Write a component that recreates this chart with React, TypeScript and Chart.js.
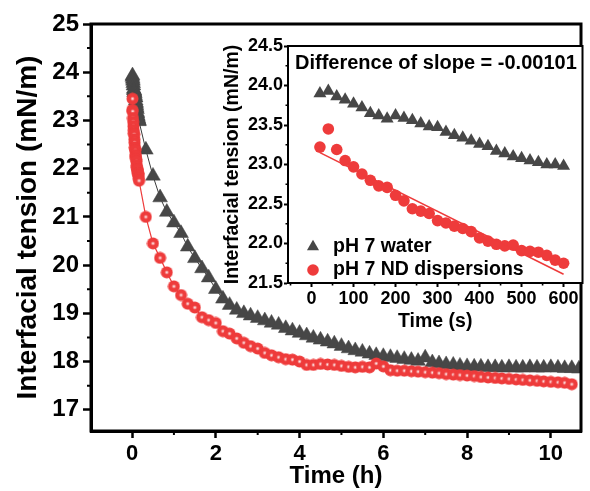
import React, { useEffect, useRef } from 'react';
import { Chart, registerables } from 'chart.js';

Chart.register(...registerables);

const FONT = "'Liberation Sans', Arial, Helvetica, sans-serif";
const GRAY = '#474747';
const RED = '#EE3B3B';

// ---------- Inset data (first 600 s) ----------
const insetTimeS = [20, 40, 60, 80, 100, 120, 140, 160, 180, 200, 220, 240, 260, 280, 300,
  320, 340, 360, 380, 400, 420, 440, 460, 480, 500, 520, 540, 560, 580, 600];
const insetWater = [23.90, 23.93, 23.86, 23.82, 23.77, 23.72, 23.65, 23.62, 23.58, 23.62,
  23.59, 23.56, 23.52, 23.48, 23.47, 23.41, 23.37, 23.34, 23.30, 23.26,
  23.23, 23.17, 23.14, 23.10, 23.08, 23.05, 23.03, 23.00, 23.00, 22.98];
const insetND = [23.22, 23.45, 23.19, 23.05, 22.97, 22.88, 22.80, 22.73, 22.71, 22.61,
  22.54, 22.44, 22.41, 22.38, 22.29, 22.26, 22.22, 22.19, 22.15, 22.07,
  22.03, 21.99, 21.97, 21.98, 21.91, 21.90, 21.89, 21.85, 21.79, 21.75];
const fitTimeS = [20, 600];
const fitND = [23.15, 21.61];
const slopeNote = 'Difference of slope = -0.00101';

// ---------- Main data after the first 10 min ----------
const mainTimeH = [0.33, 0.5, 0.67, 0.83, 1.0, 1.17, 1.33, 1.5, 1.67, 1.83, 2.0, 2.17, 2.33, 2.5,
  2.67, 2.83, 3.0, 3.17, 3.33, 3.5, 3.67, 3.83, 4.0, 4.17, 4.33, 4.5, 4.67, 4.83, 5.0, 5.17,
  5.33, 5.5, 5.67, 5.83, 6.0, 6.17, 6.33, 6.5, 6.67, 6.83, 7.0, 7.17, 7.33, 7.5, 7.67, 7.83,
  8.0, 8.17, 8.33, 8.5, 8.67, 8.83, 9.0, 9.17, 9.33, 9.5, 9.67, 9.83, 10.0, 10.17, 10.33,
  10.5, 10.67];
const mainWaterLater = [22.39, 21.85, 21.40, 21.10, 20.88, 20.66, 20.38, 20.14, 19.93, 19.74,
  19.50, 19.30, 19.17, 19.07, 19.00, 18.95, 18.90, 18.85, 18.80, 18.76, 18.69, 18.64, 18.59,
  18.54, 18.49, 18.45, 18.41, 18.37, 18.32, 18.27, 18.23, 18.20, 18.16, 18.13, 18.11, 18.09,
  18.07, 18.05, 18.03, 18.01, 18.08, 17.98, 17.96, 17.94, 17.93, 17.91, 17.90, 17.89, 17.89,
  17.88, 17.88, 17.87, 17.88, 17.87, 17.87, 17.88, 17.87, 17.87, 17.88, 17.87, 17.86, 17.86,
  17.85];
const mainNDLater = [21.00, 20.45, 20.15, 19.85, 19.56, 19.38, 19.20, 19.12, 18.92, 18.86,
  18.80, 18.63, 18.58, 18.48, 18.39, 18.32, 18.27, 18.18, 18.13, 18.09, 18.05, 18.04, 18.00,
  17.93, 17.93, 17.95, 17.94, 17.93, 17.91, 17.89, 17.88, 17.89, 17.88, 17.96, 17.90, 17.82,
  17.81, 17.81, 17.80, 17.79, 17.78, 17.77, 17.76, 17.74, 17.73, 17.72, 17.71, 17.70, 17.68,
  17.67, 17.66, 17.65, 17.64, 17.63, 17.62, 17.61, 17.60, 17.59, 17.58, 17.57, 17.56, 17.53];

// ---------- Ticks ----------
const mainXTicks = [0, 2, 4, 6, 8, 10];
const mainXMinor = [1, 3, 5, 7, 9];
const mainYTicks = [17, 18, 19, 20, 21, 22, 23, 24, 25];
const mainYMinor = [17.5, 18.5, 19.5, 20.5, 21.5, 22.5, 23.5, 24.5];
const insetXTicks = [0, 100, 200, 300, 400, 500, 600];
const insetXMinor = [-50, 50, 150, 250, 350, 450, 550];
const insetYTicks = [21.5, 22.0, 22.5, 23.0, 23.5, 24.0, 24.5];
const insetYMinor = [21.75, 22.25, 22.75, 23.25, 23.75, 24.25];

const waterLabel = 'pH 7 water';
const ndLabel = 'pH 7 ND dispersions';
const yTitle = 'Interfacial tension (mN/m)';

const framePlugin = {
  id: 'frame',
  beforeDraw(chart: any, _a: any, opts: any) {
    if (!opts.fill) return;
    const { ctx, chartArea: a } = chart;
    ctx.save();
    ctx.fillStyle = opts.fill;
    ctx.fillRect(a.left, a.top, a.right - a.left, a.bottom - a.top);
    ctx.restore();
  },
  afterDraw(chart: any, _a: any, opts: any) {
    const { ctx, chartArea: a } = chart;
    const xs = chart.scales.x;
    const ys = chart.scales.y;
    ctx.save();
    ctx.strokeStyle = '#000';
    ctx.lineWidth = opts.width;
    ctx.strokeRect(a.left, a.top, a.right - a.left, a.bottom - a.top);
    ctx.lineWidth = opts.tickWidth;
    ctx.beginPath();
    for (const v of opts.xMinor) {
      const p = xs.getPixelForValue(v);
      ctx.moveTo(p, a.bottom);
      ctx.lineTo(p, a.bottom + opts.minorLen);
    }
    for (const v of opts.yMinor) {
      const p = ys.getPixelForValue(v);
      ctx.moveTo(a.left, p);
      ctx.lineTo(a.left - opts.minorLen, p);
    }
    ctx.stroke();
    ctx.restore();
  },
};

const insetTextPlugin = {
  id: 'insetText',
  afterDatasetsDraw(chart: any, _a: any, opts: any) {
    const { ctx, chartArea: a } = chart;
    ctx.save();
    ctx.textBaseline = 'middle';
    ctx.textAlign = 'left';
    ctx.fillStyle = '#000';
    ctx.font = `bold ${opts.noteSize}px ${FONT}`;
    ctx.fillText(opts.note, a.left + opts.noteDx, a.top + opts.noteDy);
    ctx.font = `bold ${opts.legendSize}px ${FONT}`;
    opts.items.forEach((it: any, i: number) => {
      const ds = chart.data.datasets[it.ds];
      const y = a.bottom - opts.rowFromBottom[i];
      const mx = a.left + opts.markerDx;
      ctx.fillStyle = ds.pointBackgroundColor;
      ctx.beginPath();
      if (ds.pointStyle === 'triangle') {
        const r = opts.triR;
        ctx.moveTo(mx, y - r);
        ctx.lineTo(mx + r * Math.sin(2 * Math.PI / 3), y + r / 2);
        ctx.lineTo(mx - r * Math.sin(2 * Math.PI / 3), y + r / 2);
        ctx.closePath();
      } else {
        ctx.arc(mx, y, opts.circR, 0, Math.PI * 2);
      }
      ctx.fill();
      ctx.fillStyle = '#000';
      ctx.fillText(ds.label, a.left + opts.textDx, y);
    });
    ctx.restore();
  },
};

function makeSphere(): HTMLCanvasElement {
  const c = document.createElement('canvas');
  c.width = 13;
  c.height = 13;
  const g = c.getContext('2d')!;
  g.fillStyle = RED;
  g.beginPath();
  g.arc(6.5, 6.5, 6, 0, Math.PI * 2);
  g.fill();
  const grad = g.createRadialGradient(6.5, 6.5, 0, 6.5, 6.5, 2.6);
  grad.addColorStop(0, 'rgba(255,236,236,1)');
  grad.addColorStop(0.5, 'rgba(248,170,170,0.85)');
  grad.addColorStop(1, 'rgba(238,59,59,0)');
  g.fillStyle = grad;
  g.beginPath();
  g.arc(6.5, 6.5, 2.6, 0, Math.PI * 2);
  g.fill();
  return c;
}

function bold(size: number) {
  return { family: FONT, size, weight: 'bold' as const };
}

export default function App() {
  const mainRef = useRef<HTMLCanvasElement>(null);
  const insetRef = useRef<HTMLCanvasElement>(null);

  useEffect(() => {
    Chart.defaults.font.family = FONT;
    Chart.defaults.color = '#000';

    const waterPts = [
      ...insetTimeS.map((s, i) => ({ x: s / 3600, y: insetWater[i] })),
      ...mainTimeH.map((t, i) => ({ x: t, y: mainWaterLater[i] })),
    ];
    const ndPts = [
      ...insetTimeS.map((s, i) => ({ x: s / 3600, y: insetND[i] })),
      ...mainNDLater.map((v, i) => ({ x: mainTimeH[i], y: v })),
    ];

    const main = new Chart(mainRef.current!, {
      type: 'line',
      data: {
        datasets: [
          {
            label: ndLabel,
            data: ndPts,
            borderColor: RED,
            borderWidth: 1.2,
            pointStyle: makeSphere() as any,
            pointRadius: 6,
            pointBackgroundColor: RED,
            tension: 0,
          },
          {
            label: waterLabel,
            data: waterPts,
            borderColor: '#3a3a3a',
            borderWidth: 1,
            pointStyle: 'triangle',
            pointRadius: 8.5,
            pointBackgroundColor: GRAY,
            pointBorderColor: GRAY,
            pointBorderWidth: 0.5,
            tension: 0,
          },
        ],
      },
      options: {
        animation: false,
        responsive: false,
        events: [],
        layout: { padding: { left: 0, top: 24, right: 5, bottom: 0 } },
        plugins: {
          legend: { display: false },
          tooltip: { enabled: false },
          frame: { width: 3, tickWidth: 2, minorLen: 4, xMinor: mainXMinor, yMinor: mainYMinor },
        } as any,
        scales: {
          x: {
            type: 'linear',
            min: -0.98,
            max: 10.72,
            afterBuildTicks: (s: any) => { s.ticks = mainXTicks.map((v) => ({ value: v })); },
            afterFit: (s: any) => { s.height = 60; },
            ticks: { font: bold(22), color: '#000', padding: 3, maxRotation: 0, autoSkip: false, callback: (v: any) => String(v) },
            grid: { drawOnChartArea: false, drawTicks: true, tickLength: 7, tickWidth: 2.5, tickColor: '#000' },
            border: { display: true, color: '#000', width: 3 },
            title: { display: true, text: 'Time (h)', font: bold(24), color: '#000', padding: { top: 0, bottom: 0 } },
          },
          y: {
            type: 'linear',
            min: 16.56,
            max: 25,
            afterBuildTicks: (s: any) => { s.ticks = mainYTicks.map((v) => ({ value: v })); },
            afterFit: (s: any) => { s.width = 91; },
            ticks: { font: bold(24), color: '#000', padding: 4, autoSkip: false, callback: (v: any) => String(v) },
            grid: { drawOnChartArea: false, drawTicks: true, tickLength: 8, tickWidth: 2.5, tickColor: '#000' },
            border: { display: true, color: '#000', width: 3 },
            title: { display: true, text: yTitle, font: bold(28), color: '#000', padding: { top: 11, bottom: 0 } },
          },
        },
      },
      plugins: [framePlugin],
    } as any);

    const inset = new Chart(insetRef.current!, {
      type: 'line',
      data: {
        datasets: [
          {
            label: 'fit',
            data: fitTimeS.map((s, i) => ({ x: s, y: fitND[i] })),
            borderColor: RED,
            borderWidth: 1.6,
            pointRadius: 0,
            tension: 0,
          },
          {
            label: ndLabel,
            data: insetTimeS.map((s, i) => ({ x: s, y: insetND[i] })),
            showLine: false,
            pointStyle: 'circle',
            pointRadius: 5.8,
            pointBackgroundColor: RED,
            pointBorderColor: RED,
            pointBorderWidth: 0,
          },
          {
            label: waterLabel,
            data: insetTimeS.map((s, i) => ({ x: s, y: insetWater[i] })),
            showLine: false,
            pointStyle: 'triangle',
            pointRadius: 7.5,
            pointBackgroundColor: GRAY,
            pointBorderColor: GRAY,
            pointBorderWidth: 0,
          },
        ],
      },
      options: {
        animation: false,
        responsive: false,
        events: [],
        layout: { padding: { left: 0, top: 16, right: 6, bottom: 0 } },
        plugins: {
          legend: { display: false },
          tooltip: { enabled: false },
          frame: { fill: '#fff', width: 2, tickWidth: 1.6, minorLen: 2.5, xMinor: insetXMinor, yMinor: insetYMinor },
          insetText: {
            note: slopeNote, noteSize: 20, noteDx: 7, noteDy: 17.5,
            legendSize: 19.5, markerDx: 25, textDx: 45, triR: 7, circR: 5.8,
            rowFromBottom: [36.3, 13],
            items: [{ ds: 2 }, { ds: 1 }],
          },
        } as any,
        scales: {
          x: {
            type: 'linear',
            min: -56,
            max: 645,
            afterBuildTicks: (s: any) => { s.ticks = insetXTicks.map((v) => ({ value: v })); },
            afterFit: (s: any) => { s.height = 53; },
            ticks: { font: bold(18), color: '#000', padding: 1, maxRotation: 0, autoSkip: false, callback: (v: any) => String(v) },
            grid: { drawOnChartArea: false, drawTicks: true, tickLength: 4, tickWidth: 2, tickColor: '#000' },
            border: { display: true, color: '#000', width: 2 },
            title: { display: true, text: 'Time (s)', font: bold(19.5), color: '#000', padding: { top: 0, bottom: 2.6 } },
          },
          y: {
            type: 'linear',
            min: 21.5,
            max: 24.5,
            afterBuildTicks: (s: any) => { s.ticks = insetYTicks.map((v) => ({ value: v })); },
            afterFit: (s: any) => { s.width = 98; },
            ticks: { font: bold(18), color: '#000', padding: 1, autoSkip: false, callback: (v: any) => Number(v).toFixed(1) },
            grid: { drawOnChartArea: false, drawTicks: true, tickLength: 4, tickWidth: 2, tickColor: '#000' },
            border: { display: true, color: '#000', width: 2 },
            title: { display: true, text: yTitle, font: bold(19.5), color: '#000', padding: { top: 31.3, bottom: 0 } },
          },
        },
      },
      plugins: [framePlugin, insetTextPlugin],
    } as any);

    return () => {
      main.destroy();
      inset.destroy();
    };
  }, []);

  return (
    <div style={{ position: 'absolute', left: 0, top: 0, width: 590, height: 491, background: '#fff' }}>
      <canvas ref={mainRef} width={590} height={491} style={{ position: 'absolute', left: 0, top: 0 }} />
      <canvas ref={insetRef} width={400} height={306} style={{ position: 'absolute', left: 190, top: 30 }} />
    </div>
  );
}
